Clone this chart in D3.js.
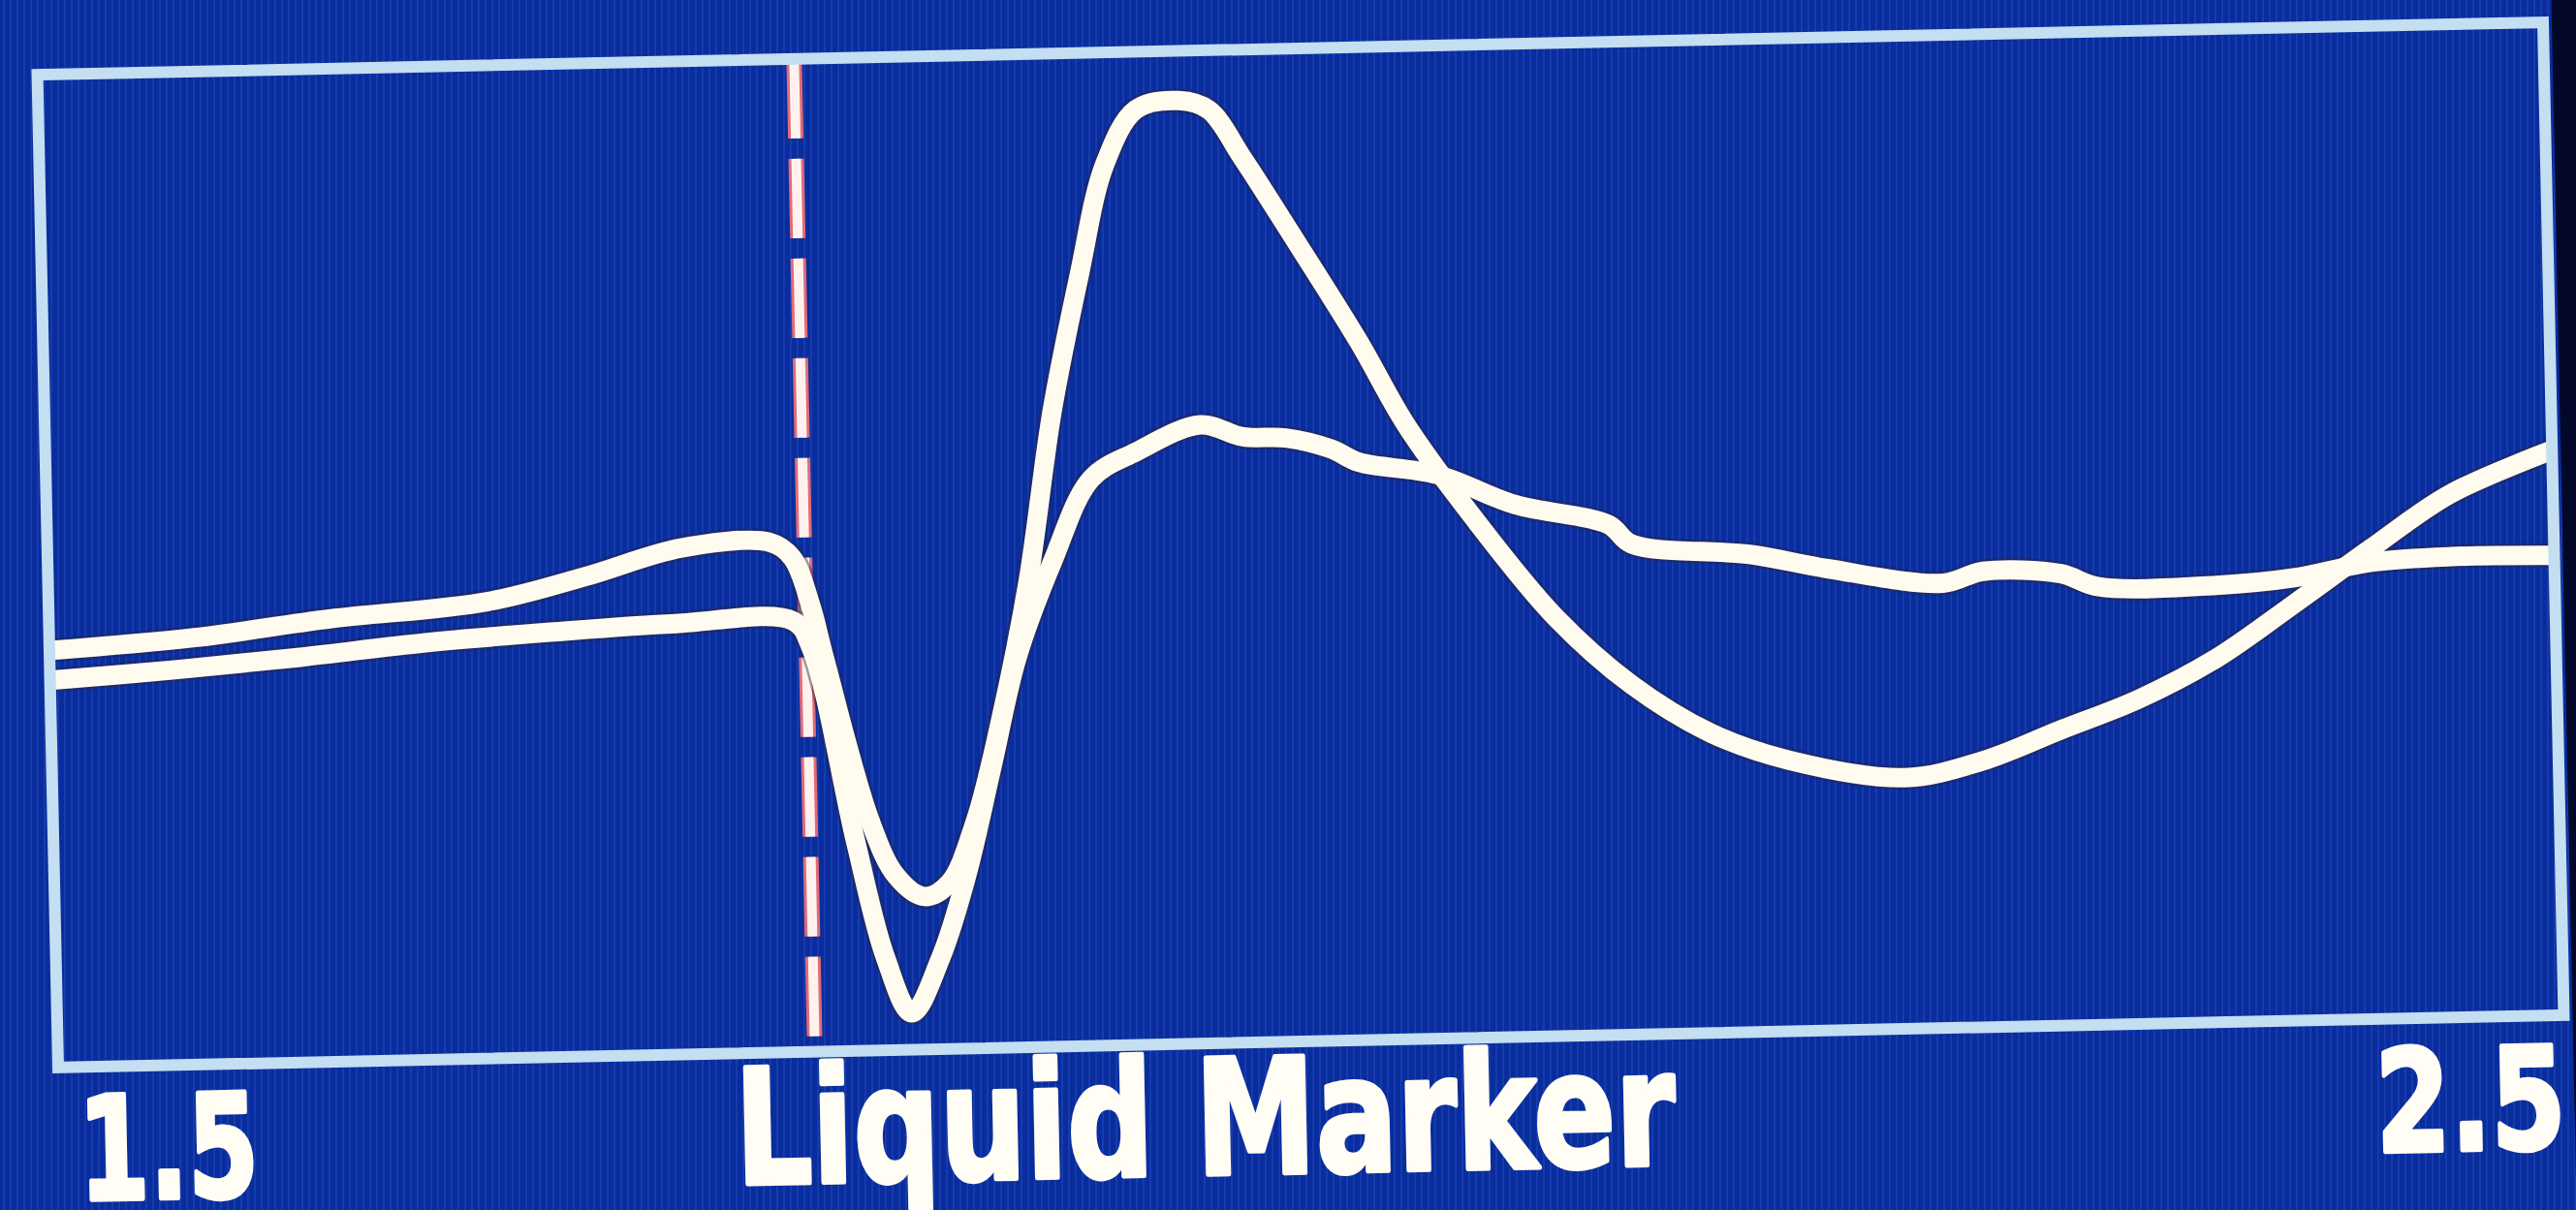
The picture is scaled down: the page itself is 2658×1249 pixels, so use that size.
<!DOCTYPE html>
<html>
<head>
<meta charset="utf-8">
<script src="https://cdn.jsdelivr.net/npm/d3@7/dist/d3.min.js"></script>
<style>
  html, body { margin: 0; padding: 0; background: #0a2c9c; overflow: hidden; }
  svg { display: block; }
</style>
</head>
<body>
<script>
// x axis runs from 1.5 to 2.5, y is a relative signal level 0..100
const xTicks = [1.5, 2.5];
const axisTitle = "Liquid Marker";
const markerX = 1.802;

// trace with the tall peak
const traceA = [
  [1.500, 42.0], [1.558, 43.0], [1.612, 44.6], [1.675, 46.0], [1.714, 48.3],
  [1.753, 51.0], [1.788, 51.4], [1.797, 49.8], [1.804, 45.0], [1.809, 39.7],
  [1.826, 23.1], [1.836, 17.5], [1.847, 15.4], [1.857, 16.7], [1.868, 22.9],
  [1.879, 33.1], [1.891, 46.9], [1.902, 64.0], [1.914, 77.7], [1.925, 88.7],
  [1.938, 94.2], [1.955, 95.0], [1.967, 94.0], [1.980, 89.1], [1.997, 82.1],
  [2.025, 70.3], [2.043, 61.9], [2.070, 52.1], [2.101, 42.2], [2.131, 35.2],
  [2.162, 30.2], [2.193, 27.3], [2.239, 25.3], [2.270, 26.8], [2.302, 29.8],
  [2.333, 32.7], [2.364, 36.6], [2.396, 42.0], [2.427, 47.4], [2.459, 52.7],
  [2.500, 56.9]
];

// trace with the deep first dip and flat tail
const traceB = [
  [1.500, 39.0], [1.550, 39.8], [1.600, 40.8], [1.650, 42.0], [1.700, 42.8],
  [1.750, 43.4], [1.797, 43.4], [1.804, 40.6], [1.820, 21.1], [1.831, 9.3],
  [1.841, 3.7], [1.853, 9.2], [1.864, 17.4], [1.875, 28.3], [1.886, 39.3],
  [1.901, 48.9], [1.917, 57.1], [1.935, 59.7], [1.961, 62.3], [1.978, 61.0],
  [1.995, 60.8], [2.013, 59.6], [2.024, 58.2], [2.055, 56.8], [2.086, 53.6],
  [2.123, 51.4], [2.132, 49.4], [2.179, 48.1], [2.210, 46.5], [2.256, 44.8],
  [2.272, 45.9], [2.303, 45.5], [2.318, 44.1], [2.365, 44.0], [2.396, 44.6],
  [2.427, 46.0], [2.459, 46.4], [2.500, 46.3]
];

const W = 2658, H = 1249;
const frame = {left: 49, top: 50, right: 2635, bottom: 1075};
const plotW = frame.right - frame.left;
const plotH = frame.bottom - frame.top;
const cx = (frame.left + frame.right) / 2;
const cy = (frame.top + frame.bottom) / 2;

const svg = d3.select("body").append("svg")
    .attr("width", W)
    .attr("height", H);

// screen background with faint vertical pixel stripes
const defs = svg.append("defs");
const pat = defs.append("pattern")
    .attr("id", "stripes")
    .attr("width", 7).attr("height", 10)
    .attr("patternUnits", "userSpaceOnUse");
pat.append("rect").attr("width", 7).attr("height", 10).attr("fill", "#0a2d9d");
pat.append("rect").attr("x", 3).attr("width", 2).attr("height", 10)
    .attr("fill", "#2a55c8").attr("opacity", 0.35);

defs.append("clipPath").attr("id", "plotClip")
  .append("rect").attr("width", plotW).attr("height", plotH);

svg.append("rect").attr("width", W).attr("height", H).attr("fill", "url(#stripes)");

// the photo is slightly tilted
const g = svg.append("g")
    .attr("transform", "rotate(-1.2," + cx + "," + cy + ")");

// dark bezel at the right edge
g.append("rect")
    .attr("x", frame.right + 9).attr("y", -100)
    .attr("width", 200).attr("height", H + 200)
    .attr("fill", "#03082a");

const plot = g.append("g")
    .attr("transform", "translate(" + frame.left + "," + frame.top + ")");

const x = d3.scaleLinear().domain([xTicks[0], xTicks[1]]).range([0, plotW]);
const y = d3.scaleLinear().domain([0, 100]).range([plotH, 0]);

// marker line
[["#e26a78", 16], ["#fff2ee", 10]].forEach(function(s) {
    plot.append("line")
        .attr("x1", x(markerX)).attr("x2", x(markerX))
        .attr("y1", 0).attr("y2", plotH)
        .attr("stroke", s[0])
        .attr("stroke-width", s[1])
        .attr("stroke-dasharray", "82 21");
});

const line = d3.line()
    .x(function(d) { return x(d[0]); })
    .y(function(d) { return y(d[1]); })
    .curve(d3.curveCatmullRom.alpha(0.5));

const traces = plot.append("g").attr("clip-path", "url(#plotClip)");
[traceB, traceA].forEach(function(t) {
    traces.append("path")
        .datum(t)
        .attr("fill", "none")
        .attr("stroke", "#2b2440")
        .attr("stroke-opacity", 0.45)
        .attr("stroke-width", 25)
        .attr("stroke-linejoin", "round")
        .attr("d", line);
});
[traceB, traceA].forEach(function(t) {
    traces.append("path")
        .datum(t)
        .attr("fill", "none")
        .attr("stroke", "#fffcef")
        .attr("stroke-width", 20)
        .attr("stroke-linejoin", "round")
        .attr("d", line);
});

// frame
g.append("rect")
    .attr("x", frame.left).attr("y", frame.top)
    .attr("width", plotW).attr("height", plotH)
    .attr("fill", "none")
    .attr("stroke", "#c4def2")
    .attr("stroke-width", 12);

// labels under the frame (heavy rounded look via a thin stroke)
const labelFont = "'DejaVu Sans', Verdana, sans-serif";
function label(txt, xPos, yPos, size, len, anchor) {
    g.append("text")
        .attr("x", xPos).attr("y", yPos)
        .attr("text-anchor", anchor)
        .attr("font-family", labelFont).attr("font-weight", "bold")
        .attr("font-size", size)
        .attr("textLength", len).attr("lengthAdjust", "spacingAndGlyphs")
        .attr("fill", "#fffdf4")
        .attr("stroke", "#fffdf4")
        .attr("stroke-width", 5)
        .attr("stroke-linejoin", "round")
        .text(txt);
}
label(d3.format(".1f")(xTicks[0]), frame.left + 19, 1212, 148, 186, "start");
label(axisTitle, 746, 1210, 165, 970, "start");
label(d3.format(".1f")(xTicks[1]), frame.right, 1212, 146, 196, "end");
</script>
</body>
</html>
